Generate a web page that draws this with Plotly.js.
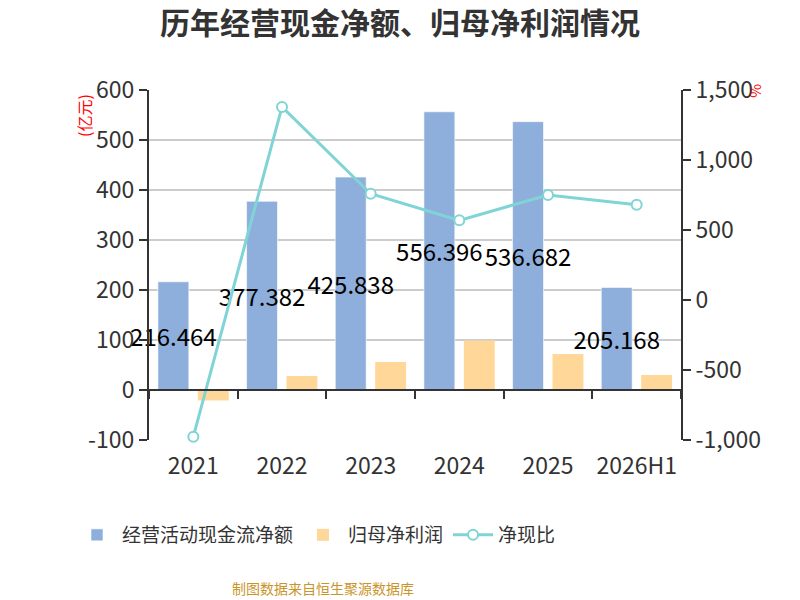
<!DOCTYPE html>
<html>
<head>
<meta charset="utf-8">
<script src="https://cdn.plot.ly/plotly-3.0.1.min.js"></script>
<style>
  html, body { margin: 0; padding: 0; background: #fff; }
  #chart { width: 800px; height: 600px; }
</style>
</head>
<body>
<div id="chart"></div>
<script>
// ------------------------------------------------------------------
// DATA

const years       = ['2021', '2022', '2023', '2024', '2025', '2026H1'];
const cashFlow    = [216.464, 377.382, 425.838, 556.396, 536.682, 205.168];   // 亿元
const netProfit   = [-21, 28, 56, 99, 72, 30];                                 // 亿元
const cashRatio   = [-976, 1379, 759, 569, 750, 681];                          // %

const leftTicks   = [-100, 0, 100, 200, 300, 400, 500, 600];
const leftLabels  = ['-100', '0', '100', '200', '300', '400', '500', '600'];
const rightTicks  = [-1000, -500, 0, 500, 1000, 1500];
const rightLabels = ['-1,000', '-500', '0', '500', '1,000', '1,500'];

// ------------------------------------------------------------------
// STYLE

const font_family = '"Noto Sans CJK SC", "Noto Sans", sans-serif';
const axis_color  = '#333333';
const text_color  = '#333333';
const leftRange   = [-100, 600];

// plot area in pixels (used to place the paper-referenced notes)
const plotL = 149, plotR = 681, plotT = 90, plotB = 440;
const px = x => (x - plotL) / (plotR - plotL);
const py = y => (plotB - y) / (plotB - plotT);

const cashTrace = {
    x: years,
    y: cashFlow,
    name: '经营活动现金流净额',
    type: 'bar',
    marker: { color: '#8eaedb', line: { color: 'rgba(255,255,255,0.6)', width: 1 } },
    text: cashFlow.map(v => String(v)),
    textposition: 'inside',
    insidetextanchor: 'middle',
    textangle: 0,
    constraintext: 'none',
    cliponaxis: false,
    textfont: { family: font_family, size: 24, color: '#000' },
    hoverinfo: 'none'
};

const profitTrace = {
    x: years,
    y: netProfit,
    name: '归母净利润',
    type: 'bar',
    marker: { color: '#ffd899' },
    hoverinfo: 'none'
};

const ratioTrace = {
    x: years,
    y: cashRatio,
    name: '净现比',
    type: 'scatter',
    mode: 'lines+markers',
    xaxis: 'x2',
    yaxis: 'y2',
    line: { color: '#80d4d6', width: 3 },
    marker: { symbol: 'circle', size: 10, color: '#ffffff', line: { color: '#80d4d6', width: 2 } },
    cliponaxis: false,
    hoverinfo: 'none'
};

const layout = {
    width: 800,
    height: 600,
    paper_bgcolor: '#ffffff',
    plot_bgcolor: '#ffffff',
    font: { family: font_family, color: text_color },
    showlegend: true,
    barmode: 'group',
    bargap: 0.1,
    bargroupgap: 0.225,
    margin: { l: plotL, r: 800 - plotR, t: plotT, b: 600 - plotB, pad: 0 },
    title: {
        text: '<b>历年经营现金净额、归母净利润情况</b>',
        x: 0.5,
        xref: 'container',
        xanchor: 'center',
        y: 1 - 23 / 600,
        yref: 'container',
        yanchor: 'middle',
        font: { family: font_family, size: 30, color: '#333' }
    },
    xaxis: {
        type: 'category',
        range: [-0.5, 5.5],
        showline: false,
        showgrid: false,
        zeroline: false,
        ticks: '',
        ticklabelstandoff: 10,
        tickfont: { family: font_family, size: 23, color: text_color },
        fixedrange: true
    },
    // second x axis only draws the zero line with boundary ticks
    xaxis2: {
        type: 'category',
        overlaying: 'x',
        anchor: 'free',
        position: (0 - leftRange[0]) / (leftRange[1] - leftRange[0]),
        range: [-0.5, 5.5],
        showline: true,
        linecolor: axis_color,
        linewidth: 2,
        ticks: 'outside',
        tickson: 'boundaries',
        ticklen: 8,
        tickwidth: 2,
        tickcolor: axis_color,
        showticklabels: false,
        showgrid: false,
        zeroline: false,
        side: 'bottom'
    },
    yaxis: {
        range: leftRange,
        tickvals: leftTicks,
        ticktext: leftLabels,
        showline: true,
        linecolor: axis_color,
        linewidth: 2,
        ticks: 'outside',
        ticklen: 8,
        tickwidth: 2,
        tickcolor: axis_color,
        showgrid: true,
        gridcolor: '#cccccc',
        gridwidth: 2,
        zeroline: false,
        tickfont: { family: font_family, size: 23, color: text_color }
    },
    yaxis2: {
        range: [-1000, 1500],
        tickvals: rightTicks,
        ticktext: rightLabels,
        overlaying: 'y',
        anchor: 'x2',
        side: 'right',
        showline: true,
        linecolor: axis_color,
        linewidth: 2,
        ticks: 'outside',
        ticklen: 8,
        tickwidth: 2,
        tickcolor: axis_color,
        showgrid: false,
        zeroline: false,
        tickfont: { family: font_family, size: 23, color: text_color }
    },
    legend: {
        orientation: 'h',
        x: px(72),
        xanchor: 'left',
        y: py(535),
        yanchor: 'middle',
        font: { family: font_family, size: 19, color: text_color },
        itemwidth: 40,
        traceorder: 'normal'
    },
    annotations: [
        {
            text: '(亿元)',
            xref: 'paper', yref: 'paper',
            x: px(84), y: py(116),
            xanchor: 'center', yanchor: 'middle',
            textangle: -90,
            showarrow: false,
            font: { family: font_family, size: 16, color: '#ff0000' }
        },
        {
            text: '%',
            xref: 'paper', yref: 'paper',
            x: px(757), y: py(91),
            xanchor: 'center', yanchor: 'middle',
            textangle: 90,
            showarrow: false,
            font: { family: font_family, size: 15, color: '#ff0000' }
        },
        {
            text: '制图数据来自恒生聚源数据库',
            xref: 'paper', yref: 'paper',
            x: px(323), y: py(588),
            xanchor: 'center', yanchor: 'middle',
            showarrow: false,
            font: { family: font_family, size: 14, color: '#c9952b' }
        }
    ]
};

Plotly.newPlot('chart', [cashTrace, profitTrace, ratioTrace], layout, { displayModeBar: false, staticPlot: true });
</script>
</body>
</html>
